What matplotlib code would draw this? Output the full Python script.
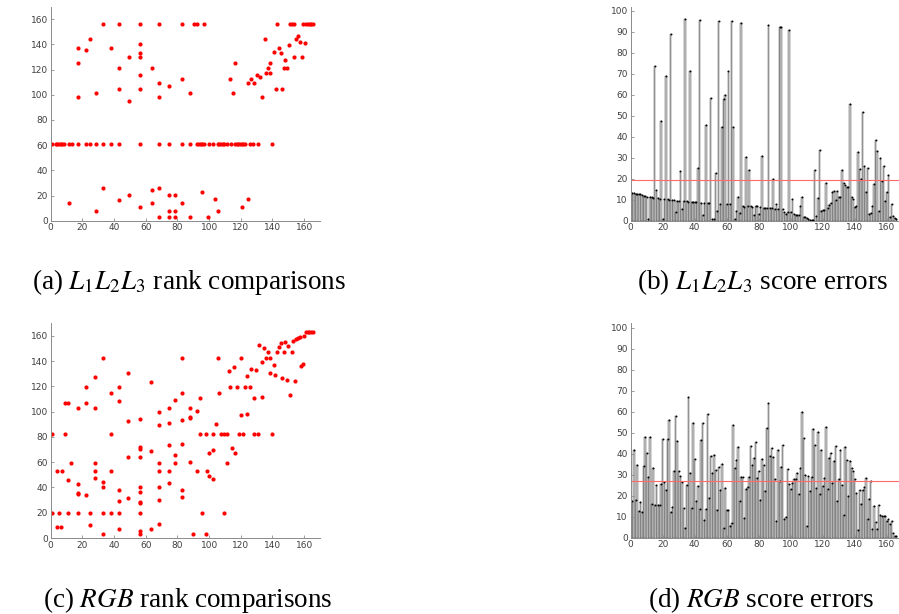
import matplotlib
matplotlib.use("Agg")
import matplotlib.pyplot as plt
import numpy as np

plt.rcParams['mathtext.fontset'] = 'stix'

# (a) L1L2L3 rank comparisons
a_row_hi_y = 156.5
a_row_hi_x = [33.3, 43.4, 56.4, 68.4, 83.2, 90.5, 92.2, 97.0, 142.8, 151.2,
              152.2, 153.9, 159.2, 161.3, 162.3, 163.4, 164.4, 165.5]
a_row_mid_y = 60.7
a_row_mid_x = [1.1, 3.2, 4.2, 5.3, 6.3, 7.4, 8.4, 11.6, 13.3, 17.5, 22.3, 24.8,
               28.4, 33.3, 38.0, 43.4, 56.4, 68.4, 74.5, 83.2, 88.0, 92.2, 93.7,
               94.7, 95.8, 97.0, 100.0, 102.5, 105.5, 106.5, 107.6, 108.6, 109.5,
               111.2, 113.7, 116.4, 117.5, 118.5, 119.6, 120.6, 121.7, 122.7,
               125.5, 128.0, 130.7, 139.8]
a_pts = [(17.5, 137.4), (17.5, 125.2), (17.5, 97.9), (22.3, 135.3), (24.8, 144.3),
         (28.4, 101.3), (38.0, 137.4), (43.4, 121.2), (43.4, 104.8), (49.5, 130.0),
         (49.5, 95.2), (56.4, 140.0), (56.4, 132.9), (56.4, 130.0), (56.4, 115.9),
         (56.4, 104.8), (63.8, 121.2), (68.4, 109.3), (68.4, 97.9), (74.5, 107.4),
         (83.2, 112.5), (88.2, 101.3), (113.0, 112.6), (115.0, 101.3), (116.2, 125.5),
         (124.6, 109.3), (126.7, 112.5), (128.4, 109.3), (130.5, 115.9), (132.0, 114.3),
         (133.3, 97.9), (135.0, 144.3), (136.2, 117.7), (137.3, 121.2), (138.3, 125.2),
         (138.5, 117.7), (141.2, 134.2), (142.0, 104.8), (144.2, 137.4), (145.3, 132.9),
         (146.3, 104.8), (147.2, 121.2), (148.2, 127.3), (149.2, 121.2), (150.5, 139.8),
         (153.5, 129.7), (155.1, 144.3), (156.2, 146.4), (157.3, 142.3), (158.5, 129.7),
         (160.4, 141.2),
         (11.6, 13.8), (28.4, 7.4), (33.3, 25.7), (43.4, 16.2), (49.5, 20.7),
         (56.4, 10.6), (63.8, 24.1), (63.8, 13.8), (68.4, 25.7), (68.4, 3.2),
         (74.5, 20.7), (74.5, 7.4), (74.5, 3.2), (78.5, 20.7), (78.5, 7.4),
         (78.5, 3.2), (83.2, 13.8), (88.2, 3.2), (95.2, 23.0), (99.6, 3.2),
         (103.6, 17.5), (105.9, 7.4), (120.8, 10.6), (124.6, 17.5)]

# (b) L1L2L3 score errors
b_vals = [13, 13, 12.8, 12.7, 12.6, 12.5, 12.2, 12, 11.8, 11.5,
          1, 11.3, 11.2, 11, 73.5, 14.5, 10.6, 10.5, 47.5, 1,
          10.4, 69, 10.2, 10.1, 89, 10, 9.8, 4, 9.6, 9.5,
          23.5, 5.5, 9.3, 96, 9.2, 9.1, 71.5, 9, 8.9, 8.8,
          8.7, 25, 95.5, 8.6, 2.5, 8.5, 45.5, 8.4, 8.3, 58.5,
          1, 1, 22.5, 4.8, 95, 8, 44.5, 58, 60, 8,
          71.5, 8, 95, 44.5, 1, 4.8, 11.3, 3.5, 94.3, 7.2,
          6.4, 30.3, 7.2, 24, 6.8, 6.7, 2.7, 7, 7.1, 3,
          6.5, 31, 6.2, 6.1, 6.1, 93.5, 6, 6, 20, 5.8,
          8, 5.5, 92.5, 92.2, 5.4, 4.3, 3.2, 4.3, 91, 4,
          10.5, 3, 2.8, 2.7, 2.6, 7.2, 11.5, 2, 1.8, 1.2,
          0.8, 0.4, 0.3, 0.3, 24, 2.2, 11, 33.6, 4.6, 5,
          5, 18, 6, 7.5, 8.2, 13.7, 14.2, 9.9, 14.2, 11.5,
          11.2, 24.2, 17.9, 17, 16.3, 16.3, 55.7, 11.5, 10.4, 6.5,
          7, 32.7, 24.7, 20, 51.7, 26.3, 13.9, 25, 3, 3.5,
          7.2, 17.5, 38.6, 33, 4.8, 30, 19, 26.3, 9.6, 13.5,
          21.8, 1.6, 8, 2.2, 1.1, 1]
b_mean = 19.3

# (c) RGB rank comparisons
c_row82_y = 82
c_row82_x = [1.0, 8.8, 37.8, 94.1, 98.0, 102.6, 107.5, 109.1, 111.0, 118.6,
             121.6, 128.2, 130.7, 139.8]
c_row19_y = 19.5
c_row19_x = [1.0, 5.3, 11.1, 17.2, 24.6, 33.2, 37.8, 43.3, 56.4, 95.6, 109.1]
c_row163_y = 163.1
c_row163_x = [161.2, 162.3, 163.3, 164.4, 165.4]
c_pts = [(3.8, 53), (3.8, 9), (6.3, 9), (7.2, 53), (8.8, 106.5), (11.1, 106.5),
         (11.1, 45.6), (13.0, 59.6), (17.2, 103), (17.2, 42.4), (17.2, 35.5),
         (17.2, 34.7), (22.0, 119.9), (22.0, 106.5), (22.0, 33.7), (24.6, 10.3),
         (28.2, 127.5), (28.2, 103), (28.2, 59.6), (28.2, 53), (28.2, 47.4),
         (33.2, 142.6), (33.2, 44.2), (33.2, 40.3), (33.2, 2.9), (37.8, 115.2),
         (37.8, 53), (43.3, 119.9), (43.3, 108.3), (43.3, 38), (43.3, 29.3),
         (43.3, 6.9), (48.8, 130.4), (48.8, 92.5), (48.8, 63.8), (48.8, 31.3),
         (56.4, 94.3), (56.4, 72.2), (56.4, 70.1), (56.4, 64.3), (56.4, 40.4),
         (56.4, 36.2), (56.4, 28.3), (56.4, 27.5), (56.4, 5.2), (56.4, 3.0),
         (63.4, 123.8), (63.4, 68.9), (63.4, 6.9), (68.6, 99.4), (68.6, 89.4),
         (68.6, 59.6), (68.6, 53), (68.6, 40.4), (68.6, 30.2), (68.6, 11.1),
         (74.5, 103), (74.5, 91.4), (74.5, 73.5), (74.5, 53), (74.5, 43.5),
         (78.5, 109.6), (78.5, 65.6), (78.5, 59.6), (83.0, 142.6), (83.0, 115.2),
         (83.0, 93.4), (83.0, 74.4), (83.0, 38), (83.0, 32.7), (88.0, 103),
         (88.0, 95.9), (88.0, 95.0), (88.0, 60), (89.6, 2.9), (92.1, 100.7),
         (92.1, 53), (94.1, 110.5), (98.0, 2.9), (98.5, 53), (100.1, 67),
         (100.1, 48.8), (102.6, 70), (102.6, 46.6), (104.3, 90.4), (105.5, 142.6),
         (106.4, 115.2), (111.0, 59.6), (112.7, 132), (113.5, 119.6), (114.6, 71.3),
         (115.8, 135.3), (116.5, 67), (117.7, 119.6), (120.0, 142.6), (120.0, 97.1),
         (122.6, 119.6), (124.1, 128), (124.1, 98.2), (125.6, 119.6), (126.7, 134.2),
         (128.2, 111.2), (129.7, 133.2), (131.8, 153.1), (133.3, 139.1), (133.5, 112),
         (134.8, 150.2), (135.8, 142.6), (136.9, 147.6), (138.3, 142.6), (138.3, 131),
         (140.9, 137), (141.9, 129.2), (143.0, 147.6), (144.0, 151), (145.1, 154.2),
         (146.0, 126.3), (147.0, 147.6), (147.9, 155.2), (148.9, 125.2), (150.0, 152.1),
         (151.0, 113.1), (152.1, 147.6), (152.9, 156.1), (154.0, 124.2), (155.0, 157.4),
         (155.9, 158.2), (157.1, 159.2), (158.0, 136.2), (159.0, 137.8), (160.1, 160.2)]

# (d) RGB score errors
d_vals = [17.5, 41.5, 18, 34.5, 12.5, 17, 12, 34, 48, 40.5,
          29, 48, 16, 33, 15.5, 25, 15.5, 15.5, 25.5, 47,
          26.5, 22.5, 47, 56, 12, 14.5, 31.5, 58, 46, 31.5,
          29.5, 26.5, 14, 4.5, 25, 67, 31, 14, 54.5, 37.5,
          17.5, 24.5, 13.5, 46.5, 54.5, 8.5, 13.5, 59, 19, 39,
          31, 39.5, 32, 13, 33.5, 22.5, 35, 4.5, 23.5, 13,
          13, 5.5, 7, 53.5, 33, 37, 43, 17.5, 29, 29,
          9.5, 23, 24, 29, 43.5, 34.5, 38, 45.5, 28.5, 31.5,
          18, 37.5, 34.5, 22, 52, 64, 39, 42.5, 38.5, 28,
          8, 41.5, 27, 33.5, 44, 9, 10, 32.5, 25.5, 23,
          26, 28, 28, 31, 21, 33, 60, 47.5, 30, 5.5, 29.5,
          22, 29, 51.5, 44, 23.5, 50.5, 21, 41.5, 24.5, 28.5,
          52.5, 23, 38, 40.5, 26, 36.5, 43.5, 17.5, 28, 41.5,
          25, 11, 43, 37, 20, 36.5, 33, 31.5, 28, 21.5, 3.5,
          22.5, 16, 22.5, 24, 28.5, 9, 18.5, 27, 4, 15,
          7.5, 4, 15.5, 11, 10.5, 10.5, 10.5, 8, 9, 6.5,
          8, 2, 1, 1]
d_mean = 27.0

captions = ["(a) $L_1L_2L_3$ rank comparisons", "(b) $L_1L_2L_3$ score errors",
            "(c) $RGB$ rank comparisons", "(d) $RGB$ score errors"]

W, H = 899, 614
fig = plt.figure(figsize=(W / 100, H / 100), dpi=100)


def px_axes(left, top, width, height):
    return fig.add_axes([left / W, 1 - (top + height) / H, width / W, height / H])


def style(ax):
    for s in ['top', 'right']:
        ax.spines[s].set_visible(False)
    for s in ['left', 'bottom']:
        ax.spines[s].set_color('#8a8a8a')
        ax.spines[s].set_linewidth(0.7)
    ax.tick_params(direction='in', length=2.5, width=0.6, color='#8a8a8a',
                   labelsize=6.5, labelcolor='#404040', pad=2)


def scatter_panel(ax, pts, rows):
    xs = [p[0] for p in pts]
    ys = [p[1] for p in pts]
    for rx, ry in rows:
        xs = xs + rx
        ys = ys + [ry] * len(rx)
    ax.plot(xs, ys, 'o', color='red', ms=3.0, mew=0, ls='none')
    ax.set_xlim(0, 170)
    ax.set_ylim(0, 170)
    ax.set_xticks(range(0, 161, 20))
    ax.set_yticks(range(0, 161, 20))
    style(ax)


def error_panel(ax, vals, mean):
    x = np.arange(1, len(vals) + 1)
    ax.bar(x, vals, width=0.8, color='#cccccc', edgecolor='#555555', linewidth=0.35)
    ax.plot(x, vals, 'o', color='black', ms=1.4, mew=0, ls='none')
    ax.axhline(mean, color='#ff6a6a', lw=0.8)
    ax.set_xlim(0, 168)
    ax.set_ylim(0, 102)
    ax.set_xticks(range(0, 161, 20))
    ax.set_yticks(range(0, 101, 10))
    style(ax)


ax_a = px_axes(50.7, 6.7, 269.3, 214)
scatter_panel(ax_a, a_pts, [(a_row_hi_x, a_row_hi_y), (a_row_mid_x, a_row_mid_y)])

ax_b = px_axes(630.7, 6.7, 268.8, 214)
error_panel(ax_b, b_vals, b_mean)

ax_c = px_axes(50.7, 323.3, 269.3, 214.7)
scatter_panel(ax_c, c_pts, [(c_row82_x, c_row82_y), (c_row19_x, c_row19_y),
                            (c_row163_x, c_row163_y)])

ax_d = px_axes(630.7, 323.3, 268.8, 214.4)
error_panel(ax_d, d_vals, d_mean)

cap_pos = [(189, 289), (762, 289), (188, 607), (761, 607)]
for (cx, cy), txt in zip(cap_pos, captions):
    fig.text(cx / W, 1 - cy / H, txt, ha='center', va='baseline', fontsize=19.5,
             family='Liberation Serif')

fig.savefig('out.png', dpi=100)
